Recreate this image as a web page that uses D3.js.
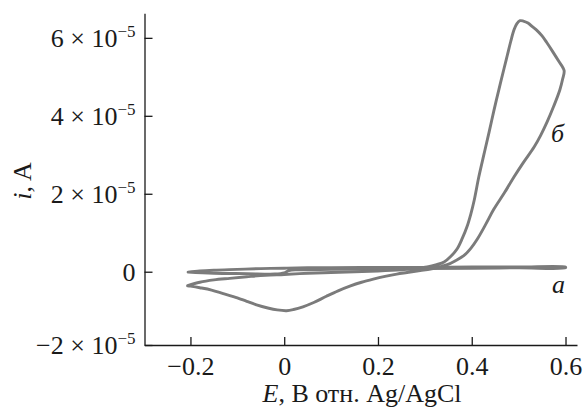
<!DOCTYPE html>
<html>
<head>
<meta charset="utf-8">
<script src="https://cdn.jsdelivr.net/npm/d3@7"></script>
<style>
  html, body { margin: 0; padding: 0; background: #fff; }
  svg { display: block; }
  text { font-family: "Liberation Serif", "DejaVu Serif", serif; fill: #1a1a1a; }
</style>
</head>
<body>
<svg id="chart" width="583" height="413"></svg>
<script>
// Cyclic voltammograms: potential E (V vs Ag/AgCl) and current in units of 1e-5 A.
// Curve "а": background scan (thin, nearly flat loop).
const eA = [-0.205, -0.18, -0.15, -0.10, -0.05, 0.00, 0.05, 0.10, 0.20, 0.30, 0.40, 0.50, 0.60,
            0.60, 0.50, 0.40, 0.30, 0.20, 0.10, 0.03, 0.01, 0.00, -0.02, -0.08, -0.15, -0.205];
const iA = [-0.01, 0.02, 0.04, 0.06, 0.08, 0.09, 0.10, 0.10, 0.11, 0.11, 0.12, 0.12, 0.12,
            0.10, 0.10, 0.09, 0.08, 0.07, 0.06, 0.05, 0.03, -0.03, -0.06, -0.05, -0.04, -0.01];

// Curve "б": anodic scan up to 0.6 V, then the return scan with the cathodic wave near 0 V.
const eB = [-0.206, -0.18, -0.15, -0.116, -0.08, -0.04, 0.00, 0.05, 0.10, 0.15, 0.20, 0.25, 0.28,
            0.305, 0.325, 0.341, 0.355, 0.369, 0.38, 0.39, 0.398, 0.405, 0.415, 0.426, 0.437,
            0.447, 0.458, 0.469, 0.476, 0.483, 0.49, 0.496, 0.503, 0.51, 0.52, 0.53, 0.54,
            0.55, 0.56, 0.572, 0.585, 0.597,
            0.594, 0.588, 0.575, 0.561, 0.547, 0.533, 0.51, 0.49, 0.47, 0.447, 0.43,
            0.412, 0.398, 0.383, 0.365, 0.348, 0.33, 0.312, 0.29, 0.262, 0.24, 0.215, 0.19,
            0.165, 0.14, 0.115, 0.09, 0.063, 0.04, 0.02, 0.005, -0.015, -0.035, -0.059, -0.08,
            -0.10, -0.13, -0.155, -0.18, -0.20, -0.206];
const iB = [-0.36, -0.27, -0.21, -0.17, -0.13, -0.09, -0.07, -0.04, -0.02, 0.00, 0.02, 0.05, 0.08,
            0.12, 0.18, 0.25, 0.39, 0.59, 0.86, 1.16, 1.48, 1.82, 2.43, 3.01, 3.58,
            4.12, 4.68, 5.22, 5.56, 5.90, 6.20, 6.36, 6.44, 6.43, 6.38, 6.28, 6.18,
            6.05, 5.88, 5.66, 5.41, 5.16,
            4.95, 4.67, 4.25, 3.85, 3.50, 3.20, 2.80, 2.43, 2.03, 1.60, 1.22,
            0.84, 0.60, 0.41, 0.28, 0.18, 0.12, 0.07, 0.03, -0.02, -0.06, -0.12, -0.19,
            -0.27, -0.37, -0.49, -0.63, -0.79, -0.90, -0.97, -1.00, -0.98, -0.93, -0.85, -0.76,
            -0.67, -0.56, -0.47, -0.41, -0.37, -0.36];

const xTicks = [-0.2, 0, 0.2, 0.4, 0.6];
const xTickLabels = ["\u22120.2", "0", "0.2", "0.4", "0.6"];
const yTicks = [-2, 0, 2, 4, 6];            // units of 1e-5 A
const yTickMantissa = ["\u22122", "0", "2", "4", "6"];

const svg = d3.select("#chart");
const FONT = 26;
const SUP = 17;
const lineColor = "#7b7b7b";

const x = d3.scaleLinear().domain([-0.298, 0.6245]).range([144.5, 577]);
const y = d3.scaleLinear().domain([-1.88, 6.63]).range([345, 13.3]).clamp(true);

// X axis (ticks point into the plot)
const gx = svg.append("g").attr("transform", `translate(0,${y.range()[0]})`)
  .call(d3.axisBottom(x).tickValues(xTicks).tickSizeInner(-8).tickSizeOuter(0).tickPadding(11.5)
    .tickFormat((d, i) => xTickLabels[i]));
gx.select(".domain").attr("stroke", "#1a1a1a").attr("stroke-width", 1.3);
gx.selectAll(".tick line").attr("stroke", "#1a1a1a").attr("stroke-width", 1.3);
gx.selectAll(".tick text").attr("font-size", FONT).attr("font-family", "Liberation Serif").attr("fill", "#1a1a1a");

// Y axis
const gy = svg.append("g").attr("transform", `translate(${x.range()[0]},0)`)
  .call(d3.axisLeft(y).tickValues(yTicks).tickSizeInner(-8).tickSizeOuter(0)
    .tickFormat(() => ""));
gy.select(".domain").attr("stroke", "#1a1a1a").attr("stroke-width", 1.3);
gy.selectAll(".tick line").attr("stroke", "#1a1a1a").attr("stroke-width", 1.3);
gy.selectAll(".tick text").each(function (d, i) {
  const t = d3.select(this)
    .attr("font-size", FONT).attr("font-family", "Liberation Serif").attr("fill", "#1a1a1a")
    .attr("x", -9).attr("dy", "0.34em");
  if (d === 0) { t.text("0"); return; }
  t.append("tspan").text(`${yTickMantissa[i]} \u00d7 10`);
  t.append("tspan").attr("font-size", SUP).attr("dy", "-0.62em").text("\u22125");
});

// Curves
const line = d3.line().x(d => x(d[0])).y(d => y(d[1])).curve(d3.curveCatmullRom.alpha(0.5));
const curveA = eA.map((e, i) => [e, iA[i]]);
const curveB = eB.map((e, i) => [e, iB[i]]);
svg.append("g").selectAll("path").data([curveA, curveB]).join("path")
  .attr("d", line)
  .attr("fill", "none").attr("stroke", lineColor).attr("stroke-width", 2.9)
  .attr("stroke-linejoin", "round").attr("stroke-linecap", "round");

// Curve labels
svg.append("text").attr("x", 552).attr("y", 293).attr("font-size", FONT)
  .attr("font-style", "italic").text("а");
svg.append("text").attr("x", 551).attr("y", 142).attr("font-size", FONT)
  .attr("font-style", "italic").text("б");

// Axis titles
const xt = svg.append("text").attr("x", 362).attr("y", 402).attr("text-anchor", "middle")
  .attr("font-size", FONT);
xt.append("tspan").attr("font-style", "italic").text("E");
xt.append("tspan").text(", В отн. Ag/AgCl");

const yt = svg.append("text").attr("transform", "translate(31,181) rotate(-90)")
  .attr("text-anchor", "middle").attr("font-size", FONT);
yt.append("tspan").attr("font-style", "italic").text("i");
yt.append("tspan").text(", A");
</script>
</body>
</html>
